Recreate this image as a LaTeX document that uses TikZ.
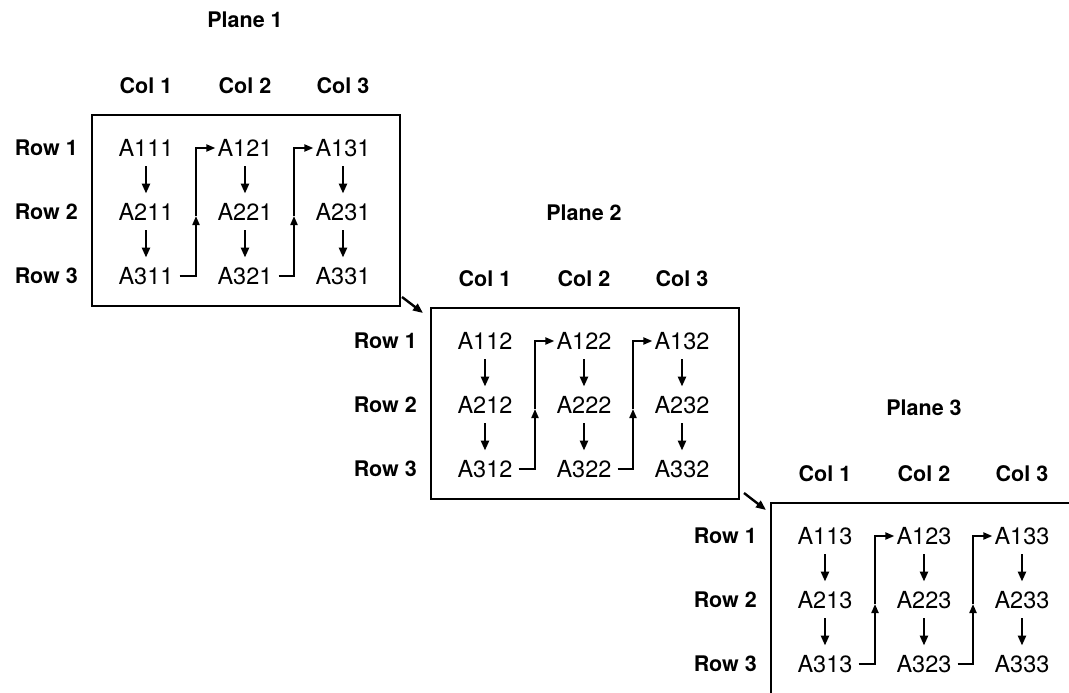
\documentclass[tikz,border=0pt]{standalone}
\usepackage{fontspec}
\setmainfont{TeX Gyre Heros}
\usetikzlibrary{arrows.meta}
\tikzset{
  cell/.style={inner xsep=2pt, inner ysep=0pt, text height=16.5pt, text depth=0pt,
    font=\fontsize{23.5}{27}\selectfont},
  hdr/.style={inner sep=0pt, font=\fontsize{21.5}{25}\selectfont\bfseries},
  rowlbl/.style={hdr, anchor=east},
  ttl/.style={hdr},
  planebox/.style={draw, line width=2.2pt, inner sep=0pt},
  downarr/.style={line width=2.4pt, -{Triangle[length=10pt,width=8pt]}, shorten <=10pt, shorten >=10pt},
  snk/.style={line width=2pt, -{Triangle[length=9pt,width=7pt]}},
  diag/.style={line width=2.4pt, -{Triangle[length=10pt,width=8pt]}},
}
\newcommand{\drawplane}[3]{%
\begin{scope}[shift={(#2,#3)}]
  \node[ttl] (P#1) at (245,20) {Plane #1};
  \node[hdr] (C1P#1) at (146,86) {Col 1};
  \node[hdr] (C2P#1) at (245,86) {Col 2};
  \node[hdr] (C3P#1) at (343,86) {Col 3};
  \node[rowlbl] (R1P#1) at (78,148) {Row 1};
  \node[rowlbl] (R2P#1) at (78,212) {Row 2};
  \node[rowlbl] (R3P#1) at (78,276) {Row 3};
  \node[planebox, minimum width=308pt, minimum height=191pt] (B#1) at (246,210.5) {};
  \foreach \r/\y in {1/148,2/212,3/276}{
    \foreach \c/\x in {1/146,2/245,3/343}{
      \node[cell] (A\r\c#1) at (\x,\y) {A\r\c#1};
    }
  }
  \foreach \c in {1,2,3}{
    \draw[downarr] (A1\c#1) -- (A2\c#1);
    \draw[downarr] (A2\c#1) -- (A3\c#1);
  }
  \coordinate (M1P#1) at (196,216);
  \coordinate (M2P#1) at (294,216);
  \draw[snk, shorten <=4pt] (A31#1.east) -| (M1P#1);
  \draw[snk] (M1P#1) |- (A12#1.west);
  \draw[snk, shorten <=4pt] (A32#1.east) -| (M2P#1);
  \draw[snk] (M2P#1) |- (A13#1.west);
\end{scope}}
\begin{document}
\begin{tikzpicture}[x=1pt,y=-1pt]
  \useasboundingbox (0,0) rectangle (1069,693);
  \fill[white] (0,0) rectangle (1069,693);
  \clip (0,0) rectangle (1069,693);
  \drawplane{1}{0}{0}
  \drawplane{2}{339}{193}
  \drawplane{3}{679}{388}
  \coordinate (T1) at (402,297);
  \coordinate (H1) at (423,313);
  \coordinate (T2) at (744,493);
  \coordinate (H2) at (766,510);
  \draw[diag] (T1) -- (H1);
  \draw[diag] (T2) -- (H2);
\end{tikzpicture}
\end{document}
